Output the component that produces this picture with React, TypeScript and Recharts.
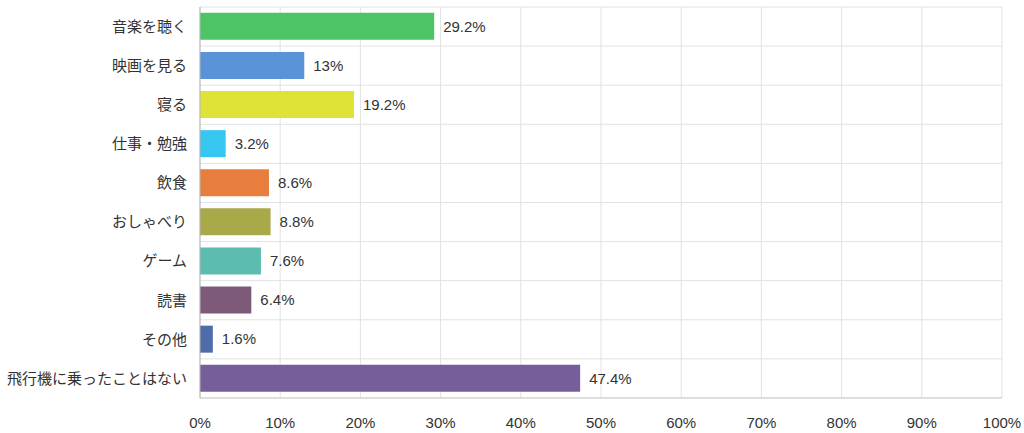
import React from "react";
import { BarChart, Bar, XAxis, YAxis, CartesianGrid, Cell, LabelList } from "recharts";

const categories = [
  "音楽を聴く",
  "映画を見る",
  "寝る",
  "仕事・勉強",
  "飲食",
  "おしゃべり",
  "ゲーム",
  "読書",
  "その他",
  "飛行機に乗ったことはない",
];
const values = [29.2, 13, 19.2, 3.2, 8.6, 8.8, 7.6, 6.4, 1.6, 47.4];
const barColors = [
  "#4dc466",
  "#5b93d8",
  "#dfe336",
  "#36c6f0",
  "#e87e3e",
  "#a8aa4a",
  "#5dbcb0",
  "#7d5a78",
  "#4e6baa",
  "#765e9a",
];
const xTicks = [0, 10, 20, 30, 40, 50, 60, 70, 80, 90, 100];

const data = categories.map((name, i) => ({ name, value: values[i] }));

const FONT = "'Liberation Sans', Arial, 'Noto Sans CJK JP', sans-serif";
const TEXT = "#333333";

export default function App() {
  return (
    <div style={{ position: "absolute", left: 0, top: 0, background: "#fff" }}>
      <BarChart
        width={1024}
        height={433}
        data={data}
        layout="vertical"
        margin={{ top: 7, right: 22, left: 0, bottom: 0 }}
        barCategoryGap="15%"
      >
        <CartesianGrid
          stroke="#e2e2e2"
          horizontalCoordinatesGenerator={({ offset }: any) =>
            Array.from({ length: categories.length + 1 }, (_, i) =>
              offset.top + (i * offset.height) / categories.length
            )
          }
        />
        <XAxis
          type="number"
          domain={[0, 100]}
          ticks={xTicks}
          tickFormatter={(v: number) => `${v}%`}
          height={35}
          tickLine={false}
          tickSize={0}
          tickMargin={19}
          axisLine={{ stroke: "#cccccc" }}
          tick={{ fill: TEXT, fontSize: 15, fontFamily: FONT }}
          interval={0}
        />
        <YAxis
          type="category"
          dataKey="name"
          width={200}
          tickLine={false}
          tickSize={0}
          tickMargin={13}
          axisLine={{ stroke: "#b5b5b5" }}
          tick={{ fill: TEXT, fontSize: 15, fontFamily: FONT }}
          interval={0}
        />
        <Bar dataKey="value" isAnimationActive={false}>
          {data.map((d, i) => (
            <Cell key={d.name} fill={barColors[i]} />
          ))}
          <LabelList
            dataKey="value"
            position="right"
            offset={9}
            formatter={(v: any) => `${v}%`}
            style={{ fill: TEXT, fontSize: 15, fontFamily: FONT }}
          />
        </Bar>
      </BarChart>
    </div>
  );
}
